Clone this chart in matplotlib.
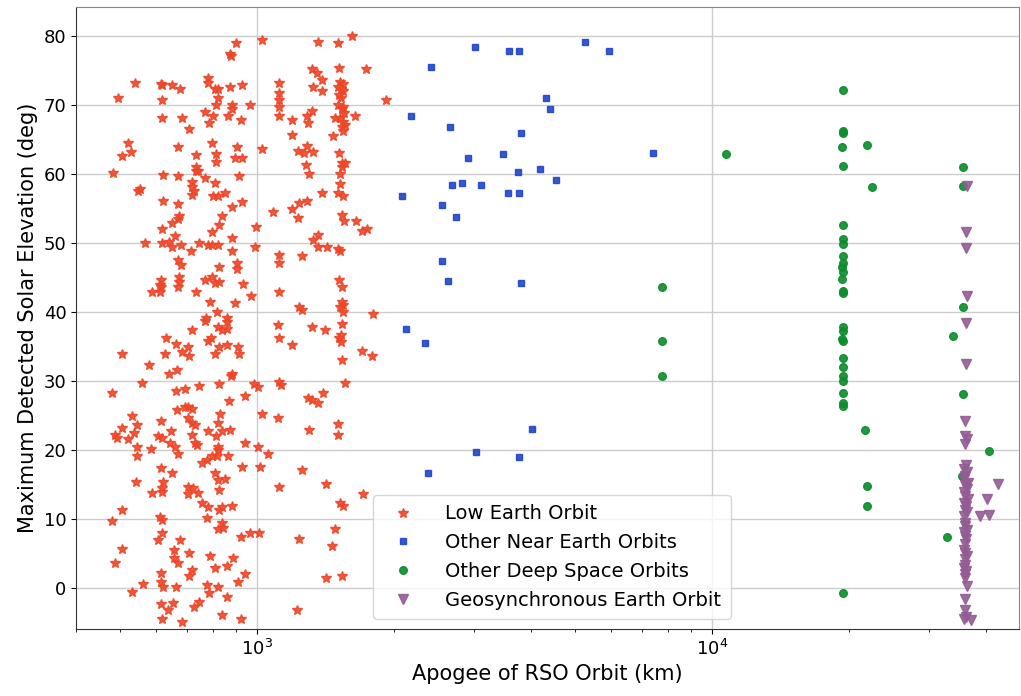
import matplotlib
matplotlib.use('Agg')
import matplotlib.pyplot as plt
from matplotlib.ticker import MultipleLocator

# (apogee km, max detected solar elevation deg)
leo_points = [
    (898, 78.9), (1024, 79.3), (871, 77.3), (875, 77.0), (538, 73.2), (614, 73.0), (617, 72.8), (649, 72.8),
    (676, 72.2), (779, 73.8), (779, 73.1), (807, 72.3), (820, 72.2), (871, 72.6), (926, 72.8), (494, 70.9),
    (617, 70.6), (820, 70.9), (811, 69.9), (880, 69.9), (880, 69.4), (964, 70.0), (768, 68.9), (799, 68.3),
    (862, 68.4), (783, 67.4), (921, 67.7), (617, 68.1), (683, 68.1), (708, 66.4), (520, 64.5), (528, 63.2),
    (504, 62.5), (669, 63.9), (795, 64.5), (903, 63.9), (1024, 63.6), (733, 62.7), (811, 62.9), (811, 61.7),
    (893, 62.3), (926, 62.3), (482, 60.1), (620, 59.8), (669, 59.6), (733, 60.9), (733, 60.4), (741, 60.4),
    (768, 59.4), (807, 58.7), (912, 59.6), (719, 58.8), (719, 58.1), (719, 56.9), (726, 57.5), (547, 57.5),
    (552, 57.8), (799, 56.8), (820, 56.8), (849, 57.2), (620, 56.1), (669, 55.6), (926, 55.9), (880, 55.2),
    (1083, 54.5), (836, 53.9), (673, 53.8), (669, 53.4), (649, 52.9), (824, 52.6), (993, 52.3), (617, 51.9),
    (659, 51.0), (567, 50.0), (617, 50.0), (640, 50.1), (649, 49.3), (680, 49.7), (745, 50.0), (779, 49.7),
    (795, 49.7), (820, 49.7), (795, 51.6), (880, 50.7), (715, 48.8), (880, 48.8), (988, 49.3), (669, 47.5),
    (680, 46.8), (824, 46.5), (903, 47.1), (903, 46.1), (614, 44.6), (611, 43.9), (614, 43.5), (611, 42.8),
    (587, 42.9), (673, 45.0), (673, 44.3), (669, 43.6), (768, 44.6), (795, 45.0), (807, 44.2), (824, 44.3),
    (930, 44.0), (733, 42.8), (969, 42.3), (787, 41.4), (893, 41.3), (815, 40.0), (772, 39.1), (858, 39.0),
    (768, 38.7), (820, 37.8), (836, 37.4), (858, 38.5), (858, 37.5), (719, 37.4), (630, 36.1), (663, 35.3),
    (704, 34.9), (683, 34.2), (708, 33.6), (627, 33.9), (504, 33.9), (791, 36.2), (779, 35.8), (824, 34.8),
    (858, 35.2), (807, 33.9), (907, 34.9), (912, 33.9), (578, 32.3), (640, 31.0), (666, 31.6), (880, 31.0),
    (875, 30.7), (558, 29.7), (479, 28.2), (663, 28.5), (694, 28.8), (745, 29.2), (824, 29.5), (983, 29.5),
    (1004, 29.1), (940, 27.8), (867, 27.1), (666, 25.8), (694, 26.1), (704, 26.1), (719, 25.9), (704, 24.6),
    (719, 23.9), (730, 23.5), (530, 24.9), (504, 23.2), (487, 22.1), (492, 21.7), (520, 21.5), (544, 23.5),
    (536, 22.4), (614, 24.2), (646, 22.7), (605, 21.9), (617, 21.7), (643, 21.0), (659, 20.4), (669, 19.4),
    (719, 22.1), (730, 21.0), (737, 20.7), (779, 22.7), (811, 22.0), (828, 25.2), (820, 23.9), (836, 22.7),
    (871, 22.9), (940, 21.0), (1024, 25.2), (544, 20.4), (544, 19.1), (584, 20.1), (820, 20.4), (820, 20.0),
    (815, 19.0), (795, 19.0), (775, 18.5), (756, 18.1), (862, 19.1), (1004, 20.4), (1056, 19.4), (614, 17.4),
    (649, 16.6), (807, 16.6), (820, 15.6), (849, 15.8), (824, 14.2), (926, 17.5), (1014, 17.5), (541, 15.3),
    (620, 15.3), (617, 14.5), (617, 13.9), (587, 13.7), (704, 14.6), (722, 14.5), (704, 13.6), (741, 13.7),
    (756, 12.3), (779, 11.7), (824, 11.3), (836, 11.7), (880, 11.8), (504, 11.3), (479, 9.7), (611, 10.3),
    (617, 9.8), (775, 10.1), (836, 9.4), (820, 8.5), (841, 8.7), (617, 7.9), (605, 6.9), (676, 6.9),
    (921, 7.3), (964, 7.9), (1009, 7.9), (504, 5.6), (487, 3.6), (656, 5.5), (656, 4.3), (669, 3.6),
    (708, 5.0), (787, 4.6), (884, 4.3), (858, 3.1), (807, 2.9), (719, 2.6), (708, 1.7), (614, 2.1),
    (614, 0.8), (620, 0.1), (561, 0.5), (530, -0.6), (663, 0.1), (775, 0.4), (783, -0.8), (820, 0.1),
    (940, 2.0), (907, 0.8), (858, -1.3), (745, -2.1), (726, -2.8), (614, -2.4), (636, -3.2), (653, -2.2),
    (617, -4.5), (683, -5.0), (836, -4.0), (921, -4.5),
    (1360, 79.0), (1505, 78.9), (1615, 79.9), (1319, 75.2), (1353, 74.6), (1512, 75.3), (1733, 75.2),
    (1116, 73.2), (1116, 71.7), (1116, 70.6), (1116, 69.7), (1116, 68.3), (1388, 73.5), (1326, 72.6),
    (1388, 72.0), (1520, 73.3), (1543, 73.0), (1505, 72.6), (1528, 72.3), (1543, 71.9), (1512, 71.4),
    (1528, 71.0), (1505, 70.0), (1543, 69.7), (1535, 69.3), (1550, 68.8), (1520, 68.1), (1543, 67.5),
    (1558, 67.1), (1535, 66.7), (1543, 66.2), (1482, 68.0), (1639, 68.3), (1192, 67.8), (1286, 68.4),
    (1319, 69.0), (1292, 67.4), (1192, 65.6), (1467, 65.4), (1918, 70.7), (1229, 63.3), (1286, 64.0),
    (1266, 63.0), (1326, 63.2), (1279, 61.2), (1299, 60.0), (1512, 63.0), (1535, 61.6), (1558, 61.6),
    (1535, 60.9), (1520, 60.0), (1520, 58.5), (1505, 57.2), (1543, 56.8), (1388, 57.2), (1235, 55.8),
    (1286, 56.1), (1192, 54.8), (1229, 53.6), (1535, 54.0), (1550, 53.2), (1648, 53.2), (1699, 51.7),
    (1742, 52.0), (1326, 50.4), (1360, 51.1), (1360, 49.4), (1423, 49.3), (1505, 49.0), (1520, 48.8),
    (1116, 48.2), (1116, 47.1), (1254, 48.1), (1512, 44.6), (1535, 43.6), (1116, 42.8), (1535, 41.4),
    (1543, 41.0), (1520, 40.6), (1543, 40.0), (1235, 40.6), (1254, 40.3), (1796, 39.6),
    (1110, 38.1), (1319, 37.7), (1409, 37.4), (1535, 38.2), (1116, 36.1), (1192, 35.1), (1528, 36.6),
    (1512, 36.1), (1528, 35.6), (1699, 34.3), (1787, 33.5), (1535, 33.0), (1116, 29.8), (1127, 29.4),
    (1558, 29.7), (1395, 28.2), (1292, 27.5), (1319, 27.2), (1360, 26.8), (1110, 24.6), (1299, 22.9),
    (1505, 23.7), (1505, 22.1), (1254, 17.1), (1116, 14.6), (1416, 15.0), (1707, 13.6), (1520, 12.3),
    (1543, 11.8), (1235, 7.1), (1482, 8.5), (1460, 6.0), (1416, 1.4), (1535, 1.7), (1223, -3.2),
]

near_points = [
    (3010, 78.3), (3574, 77.7), (3766, 77.7), (5245, 79.1), (5920, 77.7), (2405, 75.4), (4311, 70.9),
    (4406, 69.4), (2174, 68.4), (2656, 66.7), (3793, 65.9), (2900, 62.2), (3477, 62.8), (7410, 63.0),
    (3736, 60.3), (4188, 60.7), (4535, 59.0), (2679, 58.4), (2813, 58.6), (3097, 58.4), (2080, 56.8),
    (3550, 57.2), (3766, 57.2), (2546, 55.5), (2734, 53.7), (2546, 47.4), (2621, 44.5), (3793, 44.1),
    (2126, 37.5), (2337, 35.4), (4017, 23.0), (3025, 19.7), (3761, 18.9), (2369, 16.6),
]

deep_points = [
    (19410, 72.1), (19410, 66.2), (19410, 65.9), (19250, 63.9), (19410, 61.1), (19410, 52.6),
    (19410, 50.5), (19410, 49.8), (19410, 48.0), (19330, 47.0), (19250, 46.4), (19330, 45.7),
    (19250, 44.7), (19410, 43.0), (19410, 42.7), (19410, 37.7), (19330, 37.2), (19250, 36.0),
    (19330, 35.7), (19410, 33.3), (19410, 31.9), (19330, 30.7), (19410, 30.0), (19410, 28.2),
    (19410, 26.8), (19330, 26.3), (19410, -0.8),
    (21910, 64.2), (22400, 58.0), (35500, 60.9), (35500, 58.2), (35500, 40.6), (33750, 36.5),
    (35500, 28.1), (21660, 22.8), (40500, 19.8), (35330, 16.2), (21910, 14.7), (21910, 11.8),
    (32850, 7.3), (7742, 43.5), (7742, 35.8), (7742, 30.7), (10715, 62.8),
]

geo_points = [
    (36360, 58.2), (36120, 51.5), (36120, 49.2), (36360, 42.3), (36120, 38.3), (36120, 32.4),
    (35900, 24.1), (36000, 22.0), (36200, 21.5), (35950, 20.8), (36100, 17.7), (35800, 17.2),
    (36300, 16.7), (36000, 16.2), (35700, 15.7), (36400, 15.2), (35900, 14.8), (36200, 14.3),
    (35800, 13.8), (36000, 13.3), (36500, 12.8), (35700, 12.3), (36100, 11.8), (35900, 11.3),
    (36300, 10.9), (35800, 10.4), (36000, 9.4), (35900, 8.9), (36200, 8.4), (35800, 8.0),
    (36000, 7.5), (36100, 7.0), (35900, 6.3), (35800, 5.5), (36000, 5.0), (36200, 4.6),
    (35900, 4.1), (36000, 3.3), (35800, 2.9), (36100, 2.4), (35900, 1.9), (36000, 1.4),
    (36200, 0.2), (35900, -1.7), (36000, -3.2), (36100, -4.2), (36980, -4.7), (35800, -4.6),
    (42360, 15.0), (40230, 12.9), (38770, 10.4), (40580, 10.5),
]

series = [
    ('Low Earth Orbit', leo_points, '*', '#EE4628', 7.5),
    ('Other Near Earth Orbits', near_points, 's', '#1F45CC', 4.5),
    ('Other Deep Space Orbits', deep_points, 'o', '#0B8C2B', 5.5),
    ('Geosynchronous Earth Orbit', geo_points, 'v', '#945C94', 6.5),
]

fig = plt.figure(figsize=(10.21, 6.96), dpi=100)
ax = fig.add_subplot(111)
fig.subplots_adjust(left=0.0745, right=0.998, top=0.9895, bottom=0.0963)

for label, pts, marker, color, ms in series:
    xs = [p[0] for p in pts]
    ys = [p[1] for p in pts]
    ax.plot(xs, ys, linestyle='none', marker=marker, color=color,
            markersize=ms, alpha=0.9, label=label, zorder=3)

ax.set_xscale('log')
ax.set_xlim(400, 47200)
ax.set_ylim(-6.0, 84.1)
ax.yaxis.set_major_locator(MultipleLocator(10))
ax.grid(True, which='major', color='#cccccc', linewidth=1.0, zorder=0)
ax.set_axisbelow(True)

ax.set_xlabel('Apogee of RSO Orbit (km)', fontsize=15)
ax.set_ylabel('Maximum Detected Solar Elevation (deg)', fontsize=15)
ax.tick_params(axis='both', which='major', labelsize=13)

for side in ['top', 'right']:
    ax.spines[side].set_color('#888888')
for side in ['left', 'bottom']:
    ax.spines[side].set_color('#333333')

ax.legend(loc='lower center', fontsize=14, borderpad=0.5, handletextpad=1.2,
          bbox_to_anchor=(0.505, 0.0))

fig.savefig('out.png', dpi=100)
